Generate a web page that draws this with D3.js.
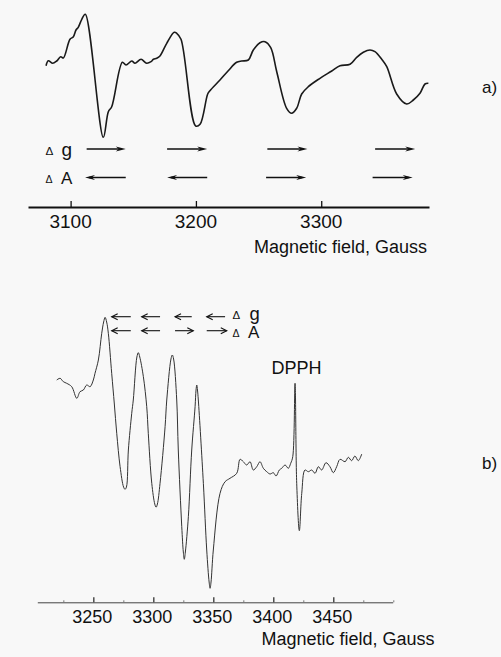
<!DOCTYPE html>
<html>
<head>
<meta charset="utf-8">
<script src="https://cdn.jsdelivr.net/npm/d3@7"></script>
<style>
  body { margin: 0; background: #f8f8f8; }
  svg { display: block; font-family: Arial, "Liberation Sans", sans-serif; }
</style>
</head>
<body>
<script>
// panel a) spectrum: field (G) and intensity (arb. units)
const fieldA = [3080.4, 3082.2, 3085.7, 3088.9, 3092.1, 3094.2, 3099.5, 3102.2, 3104.3, 3106.1, 3108.9, 3111.7,
  3126.1, 3130.1, 3132.8, 3141.3, 3144.2, 3148.8, 3151.4, 3156.2, 3160.7, 3164.2, 3166.1, 3168.7, 3171.3,
  3176.7, 3182.7, 3184.7, 3188.1, 3199.8, 3203.3, 3209.4, 3211.2, 3219.2, 3225.8, 3232.5, 3236.5, 3241.8,
  3245.8, 3251.1, 3255.1, 3259.7, 3264.5, 3272.4, 3276.4, 3280.4, 3284.4, 3289.7, 3299.0, 3308.4, 3315.0,
  3323.0, 3328.3, 3333.6, 3338.9, 3342.9, 3348.3, 3352.3, 3360.2, 3368.2, 3373.5, 3378.8, 3382.8, 3385.5];
const signalA = [9.3, 14.3, 11.7, 14, 18.3, 17, 35.7, 38.3, 45, 47.7, 55.7, 60.7,
  -62.3, -36.7, -31.7, 12.7, 10, 14, 11.7, 15.7, 11.7, 13.3, 15.7, 16.7, 19,
  31.7, 42.7, 41.7, 35.7, -51, -49.3, -19, -15.7, -5, 4.3, 12.7, 14, 15,
  25, 32.3, 33.3, 27.3, 3.3, -33.3, -38.3, -33.3, -19, -11.7, -3.3, 4, 9.3,
  10.7, 17.7, 22.7, 25, 23.3, 15.7, 8.3, -19, -29, -25, -18.3, -9, -8.3];
const ticksA = [3100, 3200, 3300];
// arrows a): [start, end] in G, arrow points to end
const dgA = [[3112.8, 3144], [3177, 3209], [3257, 3289], [3343, 3375]];
const dAA = [[3144, 3111.5], [3209, 3177], [3256, 3288], [3341, 3373]];

// panel b) spectrum
const fieldB = [3219.5, 3222.3, 3225.0, 3227.8, 3232.0, 3236.2, 3238.9, 3241.7, 3244.5, 3247.3, 3250.0, 3251.4,
  3254.2, 3257.0, 3258.6, 3259.8, 3261.1, 3262.5, 3265.3, 3267.5, 3269.5, 3272.3, 3275.2, 3276.4, 3277.6,
  3279.2, 3282.0, 3283.3, 3286.3, 3287.5, 3288.7, 3291.7, 3294.5, 3295.8, 3298.7, 3301.2, 3302.3, 3303.4,
  3305.6, 3309.8, 3311.2, 3314.7, 3315.8, 3316.9, 3319.5, 3320.8, 3323.7, 3325.0, 3325.8, 3326.7, 3329.2,
  3332.0, 3334.8, 3335.6, 3336.2, 3336.8, 3337.5, 3341.7, 3344.5, 3346.5, 3347.3, 3348.1, 3350.0, 3355.6,
  3359.8, 3363.9, 3369.5, 3372.3, 3375.0, 3377.8, 3380.6, 3383.3, 3386.2, 3388.9, 3391.7, 3394.5, 3397.3,
  3400.0, 3402.3, 3405.0, 3407.0, 3409.8, 3412.5, 3414.5, 3416.2, 3418.1, 3419.5, 3421.7, 3423.7, 3426.4,
  3429.2, 3432.0, 3434.8, 3437.5, 3440.3, 3443.9, 3447.2, 3450.0, 3452.8, 3455.6, 3459.8, 3462.5, 3465.3,
  3468.0, 3470.8, 3473.7];
const signalB = [90, 91.7, 88.3, 86.7, 83.3, 71.7, 78.3, 80, 85, 83.3, 90, 96.7,
  110, 136.7, 148, 152.7, 148, 136.7, 96.7, 66, 36.7, 3.3, -17, -19.3, -17,
  20, 56.7, 70, 113, 117.3, 113, 93.3, 63.3, 36.7, -13.3, -34, -37.3, -34,
  -13.3, 43.3, 70, 111, 115, 111, 70, 20, -56.7, -82, -89.3, -82, -46.7,
  20, 63.3, 80, 85, 80, 70, -13.3, -80, -112, -118.3, -112, -80, -23.3,
  -11.7, -8.3, -3.3, 10.7, 8.3, 5, 8.3, 0, 3.3, 8.3, 1.7, -1.7, -4,
  -2.7, -6, 0, 1.7, 5, 1.7, 6.7, 13.3, 86.7, -13.3, -60.7, -23.3, 0,
  -1.7, 0, -3.3, 3.3, 0, 7.3, 3.3, -2.7, 3.3, 10.7, 8.3, 12.7, 9.3,
  14, 9.3, 16];
const ticksB = [3250, 3300, 3350, 3400, 3450];
const minorB = [3225, 3275, 3325, 3375, 3425, 3475, 3500];
const dgB = [[3281.2, 3265.3], [3305.6, 3290.3], [3332, 3318.1], [3359.8, 3344.5]];
const dAB = [[3281.2, 3265.3], [3305.6, 3290.3], [3318.1, 3333.3], [3344.5, 3361.2]];

const svg = d3.select('body').append('svg')
  .attr('width', 501).attr('height', 657);

svg.append('rect').attr('width', 501).attr('height', 657).attr('fill', '#f8f8f8');

// ---------- panel a ----------
const xA = d3.scaleLinear().domain([3066, 3386]).range([28, 429]);
const yA = d3.scaleLinear().domain([-65, 65]).range([140, 10]);

const lineA = d3.line()
  .x((d, i) => xA(fieldA[i]))
  .y(d => yA(d))
  .curve(d3.curveCatmullRom.alpha(0.5));

svg.append('path')
  .datum(signalA)
  .attr('fill', 'none')
  .attr('stroke', '#1a1a1a')
  .attr('stroke-width', 1.6)
  .attr('stroke-linejoin', 'round')
  .attr('d', lineA);

const axA = svg.append('g')
  .attr('transform', 'translate(0,207)')
  .call(d3.axisTop(xA).tickValues(ticksA).tickSize(6).tickSizeOuter(0).tickFormat(''));
axA.select('.domain').attr('stroke', '#111').attr('stroke-width', 2.2);
axA.selectAll('.tick line').attr('stroke', '#111').attr('stroke-width', 1.3);

svg.append('g').selectAll('text')
  .data(ticksA).join('text')
  .attr('x', d => xA(d))
  .attr('y', 228)
  .attr('text-anchor', 'middle')
  .attr('font-size', 19)
  .attr('fill', '#111')
  .text(d => d);

svg.append('text')
  .attr('x', 254).attr('y', 253)
  .attr('font-size', 18)
  .attr('fill', '#111')
  .text('Magnetic field, Gauss');

// filled narrow arrowheads (panel a)
function arrowA(g, rows, y) {
  rows.forEach(([s, e]) => {
    const x0 = xA(s), x1 = xA(e), dir = Math.sign(x1 - x0);
    g.append('line')
      .attr('x1', x0).attr('y1', y).attr('x2', x1 - dir * 4).attr('y2', y)
      .attr('stroke', '#111').attr('stroke-width', 1.4);
    g.append('path')
      .attr('d', `M${x1},${y} L${x1 - dir * 10},${y - 2.6} L${x1 - dir * 7},${y} L${x1 - dir * 10},${y + 2.6} Z`)
      .attr('fill', '#111');
  });
}
const arA = svg.append('g');
arrowA(arA, dgA, 149);
arrowA(arA, dAA, 177.5);

function deltaLabel(x, xl, y, letter, size) {
  svg.append('text').attr('x', x).attr('y', y - 1).attr('fill', '#111')
    .attr('font-size', size * 0.62).text('\u0394');
  svg.append('text').attr('x', xl).attr('y', y).attr('fill', '#111')
    .attr('font-size', size).text(letter);
}
deltaLabel(45.5, 61.5, 156, 'g', 19);
deltaLabel(45.5, 61, 184, 'A', 17);

svg.append('text')
  .attr('x', 482).attr('y', 93)
  .attr('font-size', 17)
  .attr('fill', '#111')
  .text('a)');

// ---------- panel b ----------
const xB = d3.scaleLinear().domain([3203.3, 3499.5]).range([37.3, 392.7]);
const yB = d3.scaleLinear().domain([-125, 160]).range([595, 310]);

const lineB = d3.line()
  .x((d, i) => xB(fieldB[i]))
  .y(d => yB(d))
  .curve(d3.curveCatmullRom.alpha(0.5));

svg.append('path')
  .datum(signalB)
  .attr('fill', 'none')
  .attr('stroke', '#333')
  .attr('stroke-width', 1)
  .attr('stroke-linejoin', 'round')
  .attr('d', lineB);

const axB = svg.append('g')
  .attr('transform', 'translate(0,602.3)')
  .call(d3.axisTop(xB).tickValues(ticksB).tickSize(5).tickSizeOuter(0).tickFormat(''));
axB.select('.domain').attr('stroke', '#444').attr('stroke-width', 1);
axB.selectAll('.tick line').attr('stroke', '#222').attr('stroke-width', 1.2);

const minB = svg.append('g')
  .attr('transform', 'translate(0,602.3)')
  .call(d3.axisTop(xB).tickValues(minorB).tickSize(2).tickFormat(''));
minB.select('.domain').remove();
minB.selectAll('.tick line').attr('stroke', '#777').attr('stroke-width', 1);

svg.append('g').selectAll('text')
  .data(ticksB).join('text')
  .attr('x', d => xB(d) - 1)
  .attr('y', 623)
  .attr('text-anchor', 'middle')
  .attr('font-size', 18)
  .attr('fill', '#111')
  .text(d => d);

svg.append('text')
  .attr('x', 261.5).attr('y', 645)
  .attr('font-size', 18)
  .attr('fill', '#111')
  .text('Magnetic field, Gauss');

// open arrowheads (panel b)
function arrowB(g, rows, y) {
  rows.forEach(([s, e]) => {
    const x0 = xB(s), x1 = xB(e), dir = Math.sign(x1 - x0);
    g.append('line')
      .attr('x1', x0).attr('y1', y).attr('x2', x1).attr('y2', y)
      .attr('stroke', '#111').attr('stroke-width', 1.1);
    g.append('path')
      .attr('d', `M${x1 - dir * 6},${y - 3} L${x1},${y} L${x1 - dir * 6},${y + 3}`)
      .attr('fill', 'none').attr('stroke', '#111').attr('stroke-width', 1.1);
  });
}
const arB = svg.append('g');
arrowB(arB, dgB, 316.7);
arrowB(arB, dAB, 330.7);

deltaLabel(232.5, 249.5, 320, 'g', 18.5);
deltaLabel(232.5, 248, 338, 'A', 17);

svg.append('text')
  .attr('x', 271.5).attr('y', 374)
  .attr('font-size', 18)
  .attr('fill', '#111')
  .text('DPPH');

svg.append('text')
  .attr('x', 482).attr('y', 469)
  .attr('font-size', 17)
  .attr('fill', '#111')
  .text('b)');
</script>
</body>
</html>
